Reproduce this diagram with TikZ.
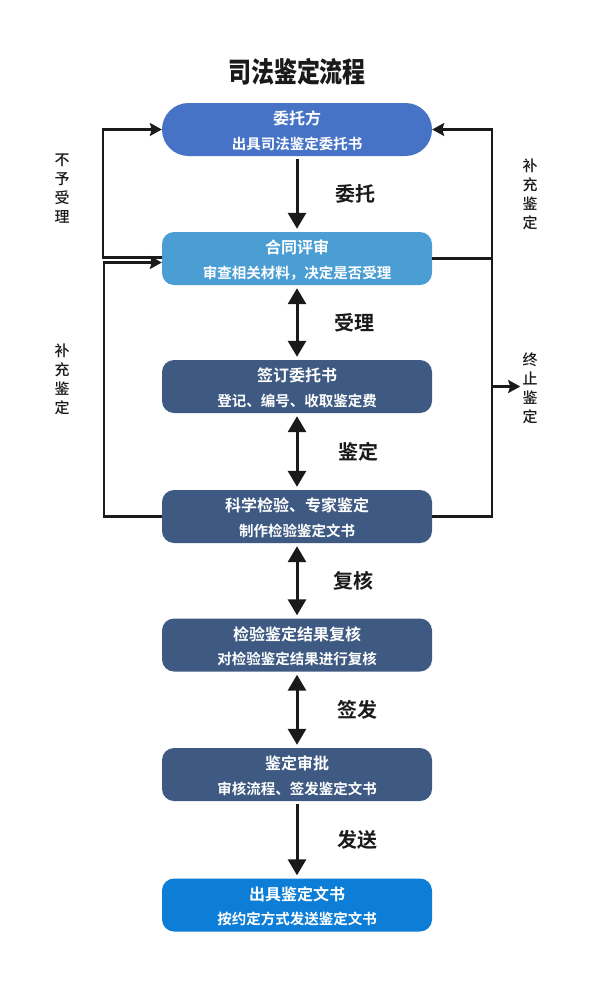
\documentclass[tikz,border=0pt]{standalone}
\usepackage{fontspec}
\setmainfont{Noto Sans CJK SC}[BoldFont={Noto Sans CJK SC Bold}]
\newfontfamily\titlefont{Noto Sans CJK SC Black}
\newfontfamily\medfont{Noto Sans CJK SC Medium}
\usetikzlibrary{arrows.meta}
\definecolor{cA}{HTML}{4673C5}
\definecolor{cB}{HTML}{4A9ED4}
\definecolor{cC}{HTML}{3E5A82}
\definecolor{cD}{HTML}{0C7ED7}
\definecolor{ink}{HTML}{1A1A1A}
\begin{document}
\begin{tikzpicture}[x=1pt,y=-1pt,
 box/.style={rounded corners=12pt, minimum width=270pt, minimum height=53pt, inner sep=0pt, draw=none},
 maintxt/.style={text=white, font=\bfseries\fontsize{16}{16}\selectfont, inner sep=0pt},
 subtxt/.style={text=white, font=\bfseries\fontsize{14.5}{14.5}\selectfont, inner sep=0pt},
 flow/.style={line width=3pt, draw=ink, -{Triangle[length=16pt,width=18pt]}},
 flowtwo/.style={line width=3pt, draw=ink, {Triangle[length=16pt,width=18pt]}-{Triangle[length=16pt,width=18pt]}},
 lbl/.style={text=ink, font=\bfseries\fontsize{20}{20}\selectfont, inner sep=0pt},
 side/.style={line width=2.2pt, draw=ink},
 sidearr/.style={side, -{Stealth[length=12pt,width=13pt,inset=2pt]}},
 vlbl/.style={text=ink, font=\medfont\fontsize{15}{19}\selectfont, align=center, inner sep=0pt},
]
\useasboundingbox (0,0) rectangle (593,988);
\fill[white] (0,0) rectangle (593,988);

\node[text=ink, inner sep=0pt, font=\titlefont\fontsize{28}{28}\selectfont] (title) at (297,72) {\scalebox{0.82}[1]{司法鉴定流程}};

\node[box, fill=cA, rounded corners=26.5pt] (b1) at (297,129.5) {};
\node[box, fill=cB] (b2) at (297,258.5) {};
\node[box, fill=cC] (b3) at (297,386.5) {};
\node[box, fill=cC] (b4) at (297,516.5) {};
\node[box, fill=cC] (b5) at (297,645) {};
\node[box, fill=cC] (b6) at (297,774.5) {};
\node[box, fill=cD] (b7) at (297,905) {};

\node[maintxt] (m1) at ([yshift=-16pt]b1.north) {委托方};
\node[subtxt] (s1) at ([yshift=-41pt]b1.north) {出具司法鉴定委托书};
\node[maintxt] (m2) at ([yshift=-16pt]b2.north) {合同评审};
\node[subtxt] (s2) at ([yshift=-41pt]b2.north) {审查相关材料，决定是否受理};
\node[maintxt] (m3) at ([yshift=-16pt]b3.north) {签订委托书};
\node[subtxt] (s3) at ([yshift=-41pt]b3.north) {登记、编号、收取鉴定费};
\node[maintxt] (m4) at ([yshift=-16pt]b4.north) {科学检验、专家鉴定};
\node[subtxt] (s4) at ([yshift=-41pt]b4.north) {制作检验鉴定文书};
\node[maintxt] (m5) at ([yshift=-16pt]b5.north) {检验鉴定结果复核};
\node[subtxt] (s5) at ([yshift=-41pt]b5.north) {对检验鉴定结果进行复核};
\node[maintxt] (m6) at ([yshift=-16pt]b6.north) {鉴定审批};
\node[subtxt] (s6) at ([yshift=-41pt]b6.north) {审核流程、签发鉴定文书};
\node[maintxt] (m7) at ([yshift=-16pt]b7.north) {出具鉴定文书};
\node[subtxt] (s7) at ([yshift=-41pt]b7.north) {按约定方式发送鉴定文书};

\draw[flow] ([yshift=-3pt]b1.south) -- ([yshift=3pt]b2.north);
\draw[flowtwo] ([yshift=-3pt]b2.south) -- ([yshift=3pt]b3.north);
\draw[flowtwo] ([yshift=-3pt]b3.south) -- ([yshift=3pt]b4.north);
\draw[flowtwo] ([yshift=-3pt]b4.south) -- ([yshift=3pt]b5.north);
\draw[flowtwo] ([yshift=-3pt]b5.south) -- ([yshift=3pt]b6.north);
\draw[flow] ([yshift=-3pt]b6.south) -- ([yshift=3pt]b7.north);

\node[lbl] (t1) at (355,194) {委托};
\node[lbl] (t2) at (354,323) {受理};
\node[lbl] (t3) at (358,452) {鉴定};
\node[lbl] (t4) at (353,581) {复核};
\node[lbl] (t5) at (357,710) {签发};
\node[lbl] (t6) at (357,840) {发送};

\draw[sidearr] ([yshift=1pt]b2.west) -- ++(-59,0) |- (b1.west);
\draw[sidearr] (b4.west) -- ++(-58,0) |- ([yshift=-4pt]b2.west);
\draw[sidearr] (b2.east) -- ++(60,0) coordinate (rj) |- (b1.east);
\draw[side] (b4.east) -- ++(60,0) coordinate (rk) -- (rj);
\draw[sidearr] (rj |- b3.east) -- ++(28,0) coordinate (stopend);

\node[vlbl] (l1) at (62,189) {不\\予\\受\\理};
\node[vlbl] (l2) at (62,379) {补\\充\\鉴\\定};
\node[vlbl] (r1) at (530,194) {补\\充\\鉴\\定};
\node[vlbl] (r2) at (530,388) {终\\止\\鉴\\定};
\end{tikzpicture}
\end{document}
